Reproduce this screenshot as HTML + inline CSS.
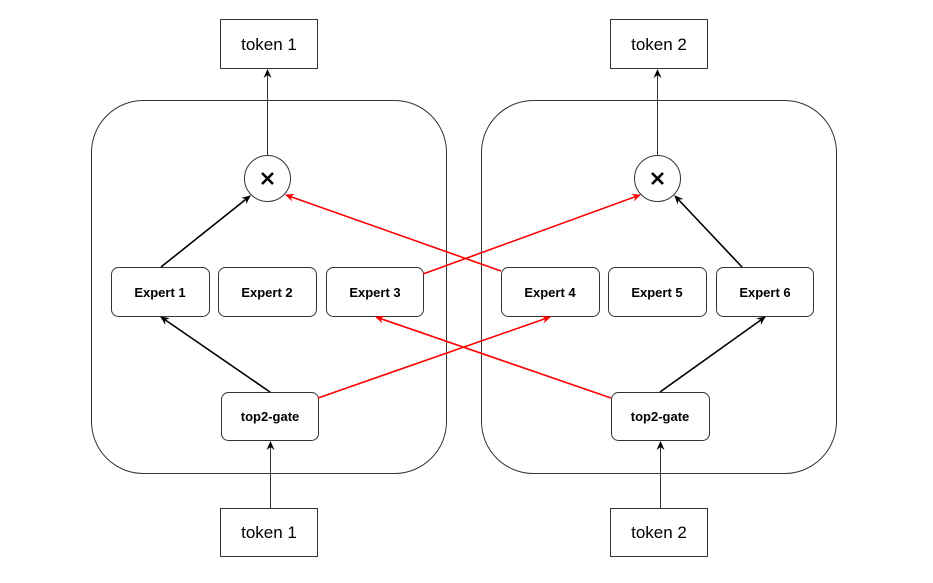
<!DOCTYPE html>
<html><head><style>body{margin:0;background:#fff}</style></head><body>
<svg width="933" height="578" xmlns="http://www.w3.org/2000/svg" font-family="Liberation Sans, Arial, sans-serif">
<defs>
<marker id="ab" markerWidth="10" markerHeight="10" refX="8" refY="5" orient="auto" markerUnits="userSpaceOnUse"><path d="M0,1 L9,5 L0,9 L3,5 Z" fill="#000"/></marker>
<marker id="ar" markerWidth="10" markerHeight="10" refX="8" refY="5" orient="auto" markerUnits="userSpaceOnUse"><path d="M0,1 L9,5 L0,9 L3,5 Z" fill="#f00"/></marker>
</defs>
<g fill="none" stroke="#333" stroke-width="1">
<rect x="91.5" y="100.5" width="355" height="373" rx="52"/>
<rect x="481.5" y="100.5" width="355" height="373" rx="52"/>
<rect x="220.5" y="19.5" width="97" height="49"/>
<rect x="610.5" y="19.5" width="97" height="49"/>
<rect x="220.5" y="508.5" width="97" height="48"/>
<rect x="610.5" y="508.5" width="97" height="48"/>
<rect x="111.5" y="267.5" width="98" height="49" rx="7"/>
<rect x="218.5" y="267.5" width="98" height="49" rx="7"/>
<rect x="326.5" y="267.5" width="97" height="49" rx="7"/>
<rect x="501.5" y="267.5" width="98" height="49" rx="7"/>
<rect x="608.5" y="267.5" width="98" height="49" rx="7"/>
<rect x="716.5" y="267.5" width="97" height="49" rx="7"/>
<rect x="221.5" y="392.5" width="97" height="48" rx="7"/>
<rect x="611.5" y="392.5" width="98" height="48" rx="7"/>
<circle cx="267.5" cy="178.5" r="23"/>
<circle cx="657.5" cy="178.5" r="23"/>
</g>
<g stroke="#333" stroke-width="1" fill="none">
<line x1="267.5" y1="155" x2="267.5" y2="70" marker-end="url(#ab)"/>
<line x1="657.5" y1="155" x2="657.5" y2="70" marker-end="url(#ab)"/>
<line x1="270.5" y1="508" x2="270.5" y2="442" marker-end="url(#ab)"/>
<line x1="660.5" y1="508" x2="660.5" y2="442" marker-end="url(#ab)"/>
</g>
<g stroke="#000" stroke-width="1.6" fill="none">
<line x1="161" y1="267" x2="250" y2="196" marker-end="url(#ab)"/>
<line x1="270" y1="392" x2="161" y2="317" marker-end="url(#ab)"/>
<line x1="742" y1="267" x2="675" y2="196" marker-end="url(#ab)"/>
<line x1="660" y1="392" x2="765" y2="317" marker-end="url(#ab)"/>
</g>
<g stroke="#f00" stroke-width="1.6" fill="none">
<line x1="318" y1="398" x2="550" y2="317" marker-end="url(#ar)"/>
<line x1="423" y1="274" x2="640" y2="195" marker-end="url(#ar)"/>
<line x1="501" y1="271" x2="286" y2="195" marker-end="url(#ar)"/>
<line x1="611" y1="398" x2="376" y2="317" marker-end="url(#ar)"/>
</g>
<g font-size="17" text-anchor="middle" fill="#000">
<text x="269" y="50">token 1</text>
<text x="659" y="50">token 2</text>
<text x="269" y="538">token 1</text>
<text x="659" y="538">token 2</text>
</g>
<g font-size="13" font-weight="bold" text-anchor="middle" fill="#000">
<text x="160" y="297">Expert 1</text>
<text x="267" y="297">Expert 2</text>
<text x="375" y="297">Expert 3</text>
<text x="550" y="297">Expert 4</text>
<text x="657" y="297">Expert 5</text>
<text x="765" y="297">Expert 6</text>
<text x="270" y="421">top2-gate</text>
<text x="660" y="421">top2-gate</text>
</g>
<g stroke="#000" stroke-width="2.6">
<line x1="262" y1="173" x2="273" y2="184"/><line x1="273" y1="173" x2="262" y2="184"/>
<line x1="652" y1="173" x2="663" y2="184"/><line x1="663" y1="173" x2="652" y2="184"/>
</g>
</svg>
</body></html>
